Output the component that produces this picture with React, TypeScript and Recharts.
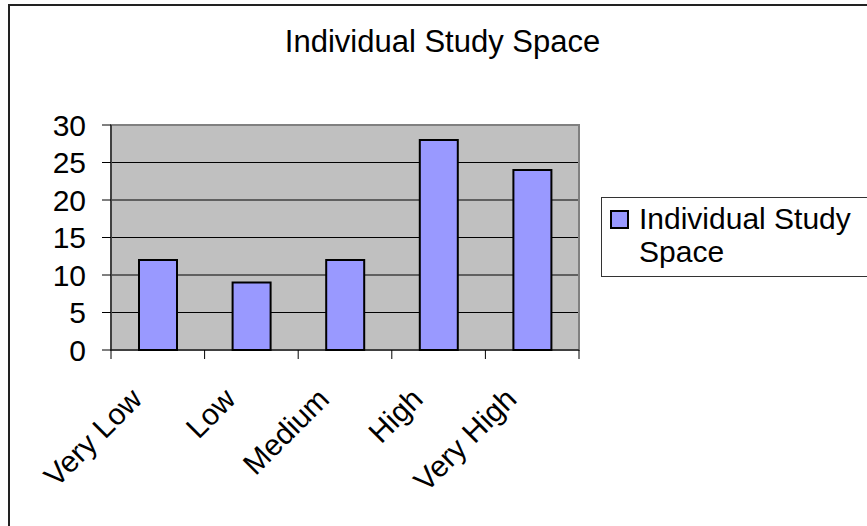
import React from "react";
import {
  BarChart,
  Bar,
  XAxis,
  YAxis,
  CartesianGrid,
  ReferenceArea,
  Legend,
} from "recharts";

// ---------------------------------------------------------------------------
// Data
// ---------------------------------------------------------------------------
const categories = ["Very Low", "Low", "Medium", "High", "Very High"];
const studySpaceValues = [12, 9, 12, 28, 24];
const yTicks = [0, 5, 10, 15, 20, 25, 30];
const seriesName = "Individual Study Space";
const chartTitle = "Individual Study Space";

const FONT = '"Liberation Sans", Arial, sans-serif';
const BAR_FILL = "#9999FF";

const chartData = categories.map((name, i) => ({
  name,
  value: studySpaceValues[i],
  slot: i + 0.5,
}));

// Excel style: tick marks between categories, labels slanted 45°
function SlantTick(props: any) {
  const { x, y, payload, index, width } = props;
  const half = width / categories.length / 2;
  const last = index === categories.length - 1;
  return (
    <g>
      <line x1={x - half} x2={x - half} y1={y} y2={y + 9} stroke="#000" />
      {last && <line x1={x + half} x2={x + half} y1={y} y2={y + 9} stroke="#000" />}
      <g transform={`translate(${x - 14},${y + 51})`}>
        <text
          textAnchor="end"
          transform="rotate(-45)"
          fontSize={30}
          fontFamily={FONT}
          fill="#000"
        >
          {payload.value}
        </text>
      </g>
    </g>
  );
}

function LegendBox() {
  return (
    <div
      style={{
        boxSizing: "border-box",
        width: 300,
        height: 80,
        border: "1px solid #333",
        background: "#fff",
        position: "relative",
        fontFamily: FONT,
        fontSize: 30,
        lineHeight: "33px",
        color: "#000",
      }}
    >
      <span
        style={{
          position: "absolute",
          left: 8,
          top: 12,
          width: 15,
          height: 15,
          background: BAR_FILL,
          border: "2px solid #000",
        }}
      />
      <div style={{ position: "absolute", left: 37, top: 4, width: 230 }}>
        {seriesName}
      </div>
    </div>
  );
}

export default function App() {
  return (
    <div
      style={{
        position: "absolute",
        left: 8,
        top: 4,
        width: 859,
        height: 522,
        overflow: "hidden",
        background: "#fff",
      }}
    >
      <div
        style={{
          position: "absolute",
          left: 0,
          top: 0,
          width: 920,
          height: 600,
          boxSizing: "border-box",
          border: "2px solid #222",
        }}
      />
      <div
        style={{
          position: "absolute",
          left: 0,
          width: 869,
          top: 20,
          textAlign: "center",
          fontFamily: FONT,
          fontSize: 31,
          color: "#000",
          whiteSpace: "nowrap",
        }}
      >
        {chartTitle}
      </div>
      <div style={{ position: "absolute", left: 0, top: 0 }}>
        <BarChart
          width={859}
          height={522}
          data={chartData}
          margin={{ top: 121, right: 288, bottom: 116, left: 43 }}
        >
          <CartesianGrid fill="#C0C0C0" stroke="#000" vertical={false} />
          <XAxis xAxisId="edges" type="number" dataKey="slot" domain={[0, 5]} hide />
          <ReferenceArea
            xAxisId="edges"
            x1={0}
            x2={5}
            y1={0}
            y2={30}
            fill="none"
            stroke="#808080"
            strokeWidth={2}
          />
          <XAxis
            dataKey="name"
            interval={0}
            tick={<SlantTick />}
            tickLine={false}
            axisLine={{ stroke: "#000" }}
            tickSize={0}
            tickMargin={0}
            height={60}
          />
          <YAxis
            domain={[0, 30]}
            ticks={yTicks}
            interval={0}
            width={60}
            tickSize={9}
            tickMargin={16}
            tickLine={{ stroke: "#000" }}
            axisLine={{ stroke: "#000" }}
            tick={{ fill: "#000", fontSize: 30, fontFamily: FONT }}
          />
          <Bar
            dataKey="value"
            name={seriesName}
            fill={BAR_FILL}
            stroke="#000"
            strokeWidth={2}
            barSize={38}
            isAnimationActive={false}
          />
          <Legend
            layout="vertical"
            align="center"
            verticalAlign="middle"
            wrapperStyle={{ position: "absolute", left: 593, top: 193, width: 300 }}
            content={() => <LegendBox />}
          />
        </BarChart>
      </div>
    </div>
  );
}
